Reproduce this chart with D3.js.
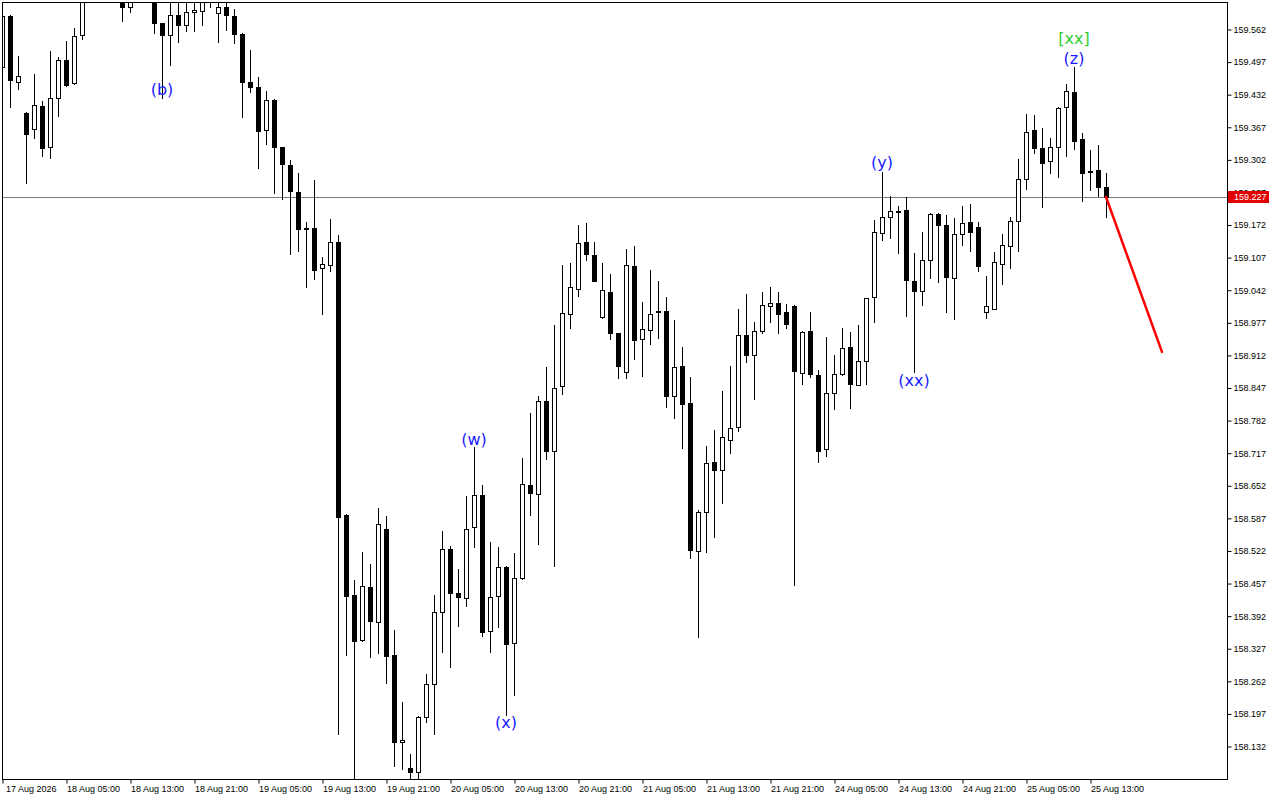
<!DOCTYPE html>
<html><head><meta charset="utf-8">
<script src="https://cdn.jsdelivr.net/npm/d3@7"></script>
<style>body{margin:0;background:#fff;overflow:hidden} svg{display:block}</style>
</head><body>
<svg id="c" width="1280" height="800"></svg>
<script>
const opens = [159.486,159.588,159.456,159.394,159.363,159.408,159.327,159.424,159.500,159.454,
159.550,159.630,159.650,159.640,159.655,159.645,159.606,159.640,159.650,159.635,
159.574,159.550,159.590,159.570,159.596,159.598,159.630,159.594,159.606,159.588,
159.552,159.456,159.446,159.361,159.420,159.327,159.291,159.237,159.165,159.165,
159.085,159.091,159.137,158.592,158.434,158.343,158.449,158.380,158.564,158.314,
158.140,158.089,158.081,158.190,158.255,158.399,158.525,158.437,158.427,158.568,
158.632,158.361,158.431,158.489,158.337,158.467,158.652,158.634,158.820,158.720,
158.850,158.993,159.043,159.137,159.111,158.987,159.038,158.955,158.877,159.089,
158.943,158.961,158.997,158.999,158.830,158.890,158.816,158.520,158.598,158.698,
158.683,158.742,158.768,158.952,158.911,158.960,159.009,159.016,158.998,159.010,
158.875,158.959,158.872,158.724,158.836,158.873,158.927,158.852,158.899,159.028,
159.155,159.187,159.200,159.201,159.060,159.039,159.101,159.194,159.171,159.066,
159.153,159.177,159.167,158.997,159.004,159.094,159.129,159.180,159.262,159.360,
159.324,159.298,159.327,159.406,159.436,159.342,159.278,159.280,159.247];
const highs = [159.592,159.590,159.508,159.397,159.472,159.418,159.518,159.506,159.538,159.564,
159.644,159.662,159.672,159.668,159.680,159.660,159.655,159.665,159.670,159.650,
159.574,159.622,159.625,159.624,159.628,159.640,159.648,159.630,159.626,159.602,
159.554,159.520,159.466,159.438,159.422,159.327,159.301,159.275,159.177,159.261,
159.107,159.183,159.152,158.595,158.463,158.518,158.495,158.607,158.591,158.364,
158.219,158.116,158.191,158.276,158.433,158.561,158.531,158.485,158.631,158.728,
158.653,158.538,158.529,158.490,158.517,158.707,158.797,158.830,158.888,158.972,
159.091,159.095,159.171,159.175,159.137,159.095,159.073,158.956,159.123,159.129,
159.018,159.081,159.060,159.028,158.982,158.928,158.867,158.602,158.731,158.762,
158.840,158.890,159.003,159.034,158.978,159.038,159.048,159.038,159.014,159.012,
158.960,158.997,158.881,158.947,158.911,158.965,158.957,158.972,159.026,159.182,
159.276,159.229,159.209,159.226,159.116,159.157,159.196,159.196,159.191,159.186,
159.209,159.213,159.177,159.070,159.117,159.153,159.187,159.303,159.392,159.390,
159.365,159.345,159.407,159.452,159.486,159.354,159.321,159.331,159.274];
const lows = [159.480,159.406,159.442,159.255,159.345,159.309,159.305,159.389,159.448,159.452,
159.542,159.622,159.628,159.625,159.630,159.578,159.596,159.622,159.625,159.554,
159.424,159.490,159.536,159.558,159.558,159.570,159.606,159.536,159.560,159.534,
159.387,159.436,159.285,159.333,159.235,159.223,159.113,159.120,159.048,159.064,
158.994,159.080,158.155,158.314,158.055,158.342,158.310,158.318,158.257,158.093,
158.086,158.060,158.066,158.179,158.156,158.320,158.290,158.372,158.412,158.528,
158.352,158.320,158.369,158.194,158.233,158.465,158.592,158.534,158.704,158.490,
158.834,158.965,159.030,159.101,159.059,158.986,158.943,158.866,158.866,158.903,
158.869,158.933,158.946,158.808,158.787,158.727,158.507,158.349,158.518,158.548,
158.617,158.717,158.761,158.897,158.825,158.956,158.978,158.956,158.966,158.453,
158.854,158.867,158.699,158.711,158.804,158.872,158.806,158.851,158.853,158.978,
159.141,159.145,159.116,158.990,158.877,159.012,159.066,159.058,158.998,158.984,
159.131,159.120,159.080,158.986,159.003,159.054,159.086,159.120,159.243,159.314,
159.206,159.275,159.267,159.309,159.322,159.218,159.240,159.228,159.188];
const closes = [159.588,159.460,159.468,159.353,159.410,159.325,159.424,159.500,159.450,159.548,
159.630,159.650,159.640,159.655,159.645,159.606,159.640,159.650,159.635,159.574,
159.550,159.590,159.570,159.596,159.600,159.628,159.622,159.606,159.590,159.552,
159.456,159.446,159.359,159.420,159.327,159.293,159.239,159.164,159.163,159.082,
159.093,159.137,158.589,158.432,158.342,158.451,158.382,158.574,158.312,158.139,
158.144,158.080,158.190,158.255,158.399,158.525,158.438,158.429,158.564,158.632,
158.360,158.429,158.489,158.335,158.467,158.654,158.636,158.820,158.720,158.847,
158.995,159.047,159.135,159.113,159.060,159.041,158.955,158.889,159.091,158.942,
158.963,158.993,158.999,158.830,158.887,158.815,158.522,158.598,158.696,158.683,
158.748,158.766,158.952,158.911,158.960,159.012,159.016,158.994,158.974,158.879,
158.958,158.873,158.721,158.836,158.873,158.925,158.853,158.899,159.025,159.157,
159.187,159.200,159.198,159.061,159.040,159.101,159.194,159.171,159.068,159.153,
159.175,159.158,159.090,159.009,159.097,159.131,159.180,159.262,159.356,159.325,
159.295,159.326,159.404,159.438,159.339,159.275,159.276,159.246,159.227];

const timeLabels = ["17 Aug 2026","18 Aug 05:00","18 Aug 13:00","18 Aug 21:00","19 Aug 05:00","19 Aug 13:00",
"19 Aug 21:00","20 Aug 05:00","20 Aug 13:00","20 Aug 21:00","21 Aug 05:00","21 Aug 13:00","21 Aug 21:00",
"24 Aug 05:00","24 Aug 13:00","24 Aug 21:00","25 Aug 05:00","25 Aug 13:00"];
const timeLabelBars = [0,8,16,24,32,40,48,56,64,72,80,88,96,104,112,120,128,136];
const priceTicks = [159.562,159.497,159.432,159.367,159.302,159.237,159.172,159.107,159.042,158.977,158.912,
158.847,158.782,158.717,158.652,158.587,158.522,158.457,158.392,158.327,158.262,158.197,158.132];

const waveTexts = ["(b)","(w)","(x)","(y)","(xx)","(z)","[xx]"];
const waveBars = [20,59,63,110,114,134,134];
const wavePrices = [159.442,158.744,158.178,159.295,158.860,159.504,159.544];
const waveColors = ["blue","blue","blue","blue","blue","blue","green"];

const lastPrice = 159.227;
const forecastBars = [138,145];
const forecastPrices = [159.227,158.918];

const L = 2, R = 1228, T = 2, B = 780;
const svg = d3.select("#c");
const x = d3.scaleLinear().domain([0,138]).range([2,1106]);
const y = d3.scaleLinear().domain([158.132,159.562]).range([746,29]);

svg.append("defs").append("clipPath").attr("id","clip")
  .append("rect").attr("x",L).attr("y",T).attr("width",R-L).attr("height",B-T);

// current price line
const g = svg.append("g").attr("clip-path","url(#clip)");
const yl = Math.round(y(lastPrice))+0.5;
g.append("line").attr("x1",L).attr("x2",R).attr("y1",yl).attr("y2",yl)
  .attr("stroke","#7a7a7a").attr("stroke-width",1);

const idx = d3.range(opens.length);
const xc = i => Math.round(x(i));
// wicks
g.selectAll("line.wick").data(idx).join("line").attr("class","wick")
  .attr("x1",i=>xc(i)+0.5).attr("x2",i=>xc(i)+0.5)
  .attr("y1",i=>Math.round(y(highs[i]))).attr("y2",i=>Math.round(y(lows[i]))+1)
  .attr("stroke","#000").attr("stroke-width",1);
// bodies
g.selectAll("rect.body").data(idx).join("rect").attr("class","body")
  .attr("x",i=>xc(i)-2+0.5).attr("width",4)
  .attr("y",i=>Math.round(y(Math.max(opens[i],closes[i])))+0.5)
  .attr("height",i=>Math.max(1,Math.round(y(Math.min(opens[i],closes[i])))-Math.round(y(Math.max(opens[i],closes[i])))))
  .attr("fill",i=>closes[i]<opens[i]?"#000":"#fff")
  .attr("stroke","#000").attr("stroke-width",1);

// forecast line
g.append("line")
  .attr("x1",x(forecastBars[0])).attr("y1",y(forecastPrices[0]))
  .attr("x2",x(forecastBars[1])).attr("y2",y(forecastPrices[1]))
  .attr("stroke","#ff0000").attr("stroke-width",2.5).attr("stroke-linecap","round");

// wave labels
g.selectAll("text.wave").data(waveTexts).join("text").attr("class","wave")
  .attr("x",(d,i)=>x(waveBars[i])).attr("y",(d,i)=>y(wavePrices[i]))
  .attr("text-anchor","middle").attr("dominant-baseline","central")
  .attr("font-family","DejaVu Sans").attr("font-size",16)
  .attr("fill",(d,i)=>waveColors[i]==="green"?"#32cd32":"#1a1aff")
  .text(d=>d);

// frame
svg.append("rect").attr("x",L+0.5).attr("y",T+0.5).attr("width",R-L-1).attr("height",B-T-1)
  .attr("fill","none").attr("stroke","#000").attr("stroke-width",1);

// right axis
const ya = d3.axisRight(y).tickValues(priceTicks).tickFormat(d3.format(".3f")).tickSize(4).tickPadding(2);
const gy = svg.append("g").attr("transform",`translate(${R-0.5},0.5)`).call(ya);
gy.select(".domain").remove();
gy.selectAll("text").attr("font-family","Liberation Sans").attr("font-size",9).attr("fill","#000");
gy.selectAll("line").attr("stroke","#000");

// bottom axis
const xa = d3.axisBottom(x).tickValues(timeLabelBars).tickFormat((d,i)=>timeLabels[i]).tickSize(4).tickPadding(2);
const gx = svg.append("g").attr("transform",`translate(0.5,${B-0.5})`).call(xa);
gx.select(".domain").remove();
gx.selectAll("text").attr("font-family","Liberation Sans").attr("font-size",9).attr("fill","#000")
  .attr("text-anchor","start").attr("dx",(d,i)=>i===0?3:0);
gx.selectAll("line").attr("stroke","#000");

// current price label
const pl = svg.append("g").attr("transform",`translate(${R},${Math.round(y(lastPrice))})`);
pl.append("rect").attr("x",0).attr("y",-6).attr("width",41).attr("height",12).attr("fill","#e00000");
pl.append("text").attr("x",6).attr("y",0).attr("dy","0.34em")
  .attr("font-family","Liberation Sans").attr("font-size",9).attr("fill","#fff")
  .text(d3.format(".3f")(lastPrice));
</script>
</body></html>
